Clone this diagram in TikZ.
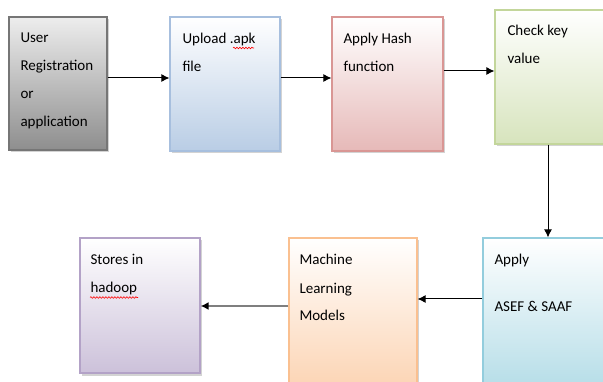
\documentclass[tikz,border=0pt]{standalone}
\usepackage{fontspec}
\setmainfont{Carlito}
\usepackage{tikz}
\usetikzlibrary{arrows.meta,shadows,decorations.pathmorphing}
\definecolor{regLine}{HTML}{767676}
\definecolor{regFill}{HTML}{8E8E8E}
\definecolor{apkLine}{HTML}{A7BFDE}
\definecolor{apkFill}{HTML}{B9CDE5}
\definecolor{hashLine}{HTML}{D99694}
\definecolor{hashFill}{HTML}{E6B9B8}
\definecolor{keyLine}{HTML}{C3D69B}
\definecolor{keyFill}{HTML}{D7E4BD}
\definecolor{asefLine}{HTML}{93CDDD}
\definecolor{asefFill}{HTML}{B7DEE8}
\definecolor{mlLine}{HTML}{FAC090}
\definecolor{mlFill}{HTML}{FCD5B5}
\definecolor{hadoopLine}{HTML}{B3A2C7}
\definecolor{hadoopFill}{HTML}{CCC1DA}
\definecolor{arrowGray}{HTML}{7F7F7F}
\tikzset{
     flowBox/.style =
        { rectangle
        , draw
        , line width=1.2pt
        , inner sep=0pt
        , top color=white
        , drop shadow={shadow xshift=2pt, shadow yshift=-2.5pt, opacity=0.35, fill=gray}
        },
     boxText/.style =
        { anchor=base west
        , align=left
        , inner sep=0pt
        , text=black
        , font=\fontsize{15}{28}\selectfont
        },
     spellMark/.style =
        { red
        , line width=0.6pt
        , decorate
        , decoration={snake, amplitude=0.8pt, segment length=3pt}
        }
}
\begin{document}
\begin{tikzpicture}
            [ x=1pt
            , y=-1pt
            , ->
            , >={Latex[length=8pt,width=8pt,color=black]}
            , line width=1pt
            ]
            \clip (0,0) rectangle (603,382);
            % boxes
            \node[flowBox, draw=regLine, top color=black!7, bottom color=regFill,
                  minimum width=98pt, minimum height=133pt] (reg) at (58,83.5) {};
            \node[flowBox, draw=apkLine, bottom color=apkFill,
                  minimum width=110pt, minimum height=134pt] (apk) at (225,84) {};
            \node[flowBox, draw=hashLine, bottom color=hashFill,
                  minimum width=111pt, minimum height=134pt] (hash) at (387.5,84) {};
            \node[flowBox, draw=keyLine, bottom color=keyFill,
                  minimum width=120pt, minimum height=134pt] (key) at (555,77) {};
            \node[flowBox, draw=asefLine, bottom color=asefFill,
                  minimum width=132pt, minimum height=147pt] (asef) at (549,311.5) {};
            \node[flowBox, draw=mlLine, bottom color=mlFill,
                  minimum width=128pt, minimum height=147pt] (ml) at (353,311.5) {};
            \node[flowBox, draw=hadoopLine, bottom color=hadoopFill,
                  minimum width=120pt, minimum height=135pt] (hadoop) at (140,305.5) {};

            % texts (placed at the baseline of their last line)
            \node[boxText] (regText) at (20,127) {User\\Registration\\or\\application};
            \node[boxText] (apkText) at (182,72) {Upload .apk\\file};
            \node[boxText] (hashText) at (343,72) {Apply Hash\\function};
            \node[boxText] (keyText) at (507,64) {Check key\\value};
            \node[boxText] (asefText) at (494,312) {Apply\\[19pt]ASEF \& SAAF};
            \node[boxText] (mlText) at (299,321) {Machine\\Learning\\Models};
            \node[boxText] (hadoopText) at (90,293) {Stores in\\hadoop};

            \draw[-, spellMark] (233,48) -- (254,48);
            \draw[-, spellMark] (90,297.5) -- (138,297.5);

            % connectors
            \draw ([yshift=5.5pt]reg.east) -- ([yshift=6pt]apk.west);
            \draw ([yshift=6pt]apk.east) -- ([yshift=6pt]hash.west);
            \draw ([yshift=13pt]hash.east) -- ([yshift=6pt]key.west);
            \draw ([xshift=-7pt]key.south) -- ([xshift=-7pt]key.south |- asef.north);
            \draw ([yshift=12.5pt]asef.west) -- ([yshift=12.5pt]ml.east);
            \draw[draw=arrowGray, line width=2.2pt] ([yshift=5.5pt]ml.west) -- ([yshift=-0.5pt]hadoop.east);
\end{tikzpicture}
\end{document}
